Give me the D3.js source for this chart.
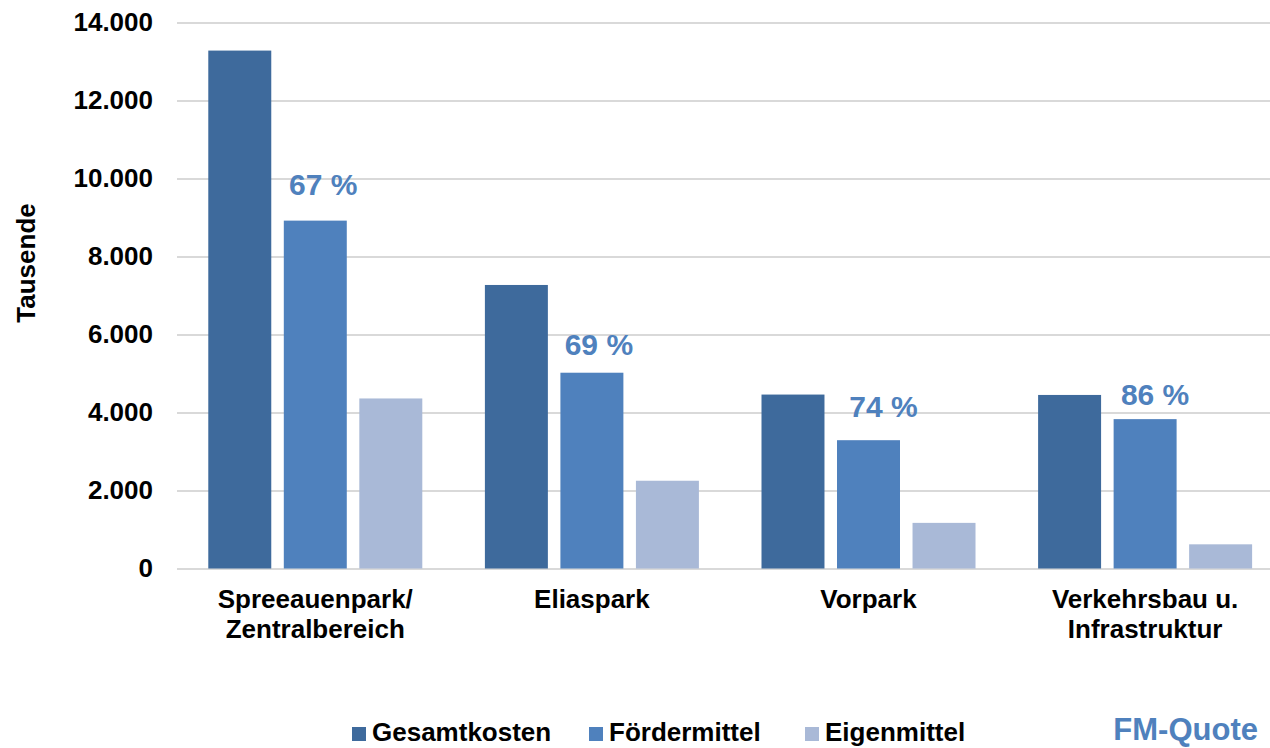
<!DOCTYPE html>
<html>
<head>
<meta charset="utf-8">
<title>Gesamtkosten, Fördermittel und Eigenmittel</title>
<script src="https://cdn.jsdelivr.net/npm/d3@7"></script>
<style>
  body { margin: 0; background: #fff; }
  svg { font-family: "Liberation Sans", Arial, sans-serif; font-weight: bold; }
</style>
</head>
<body>
<div id="chart"></div>
<script>
// data (Tausend Euro)
var categories = [["Spreeauenpark/", "Zentralbereich"], ["Eliaspark"], ["Vorpark"], ["Verkehrsbau u.", "Infrastruktur"]];
var series = ["Gesamtkosten", "Fördermittel", "Eigenmittel"];
var gesamtkosten = [13280, 7270, 4460, 4450];
var foerdermittel = [8920, 5020, 3290, 3830];
var eigenmittel = [4360, 2250, 1170, 620];
var quoteLabels = ["67 %", "69 %", "74 %", "86 %"];
var yTicks = [0, 2000, 4000, 6000, 8000, 10000, 12000, 14000];

var colors = ["#3e6a9c", "#4f81bd", "#a9b9d7"];
var quoteColor = "#4f81bd";
// hand placement of the quote labels (px), like in the original
var quoteNudge = [[8, 26], [7, 18], [15, 23], [10, 14]];

var W = 1270, H = 748;
var svg = d3.select("#chart").append("svg").attr("width", W).attr("height", H);

var catIdx = categories.map(function(d, i) { return i; });
var x0 = d3.scaleBand().domain(catIdx).range([177, 1283.4]).paddingInner(0.2263).paddingOuter(0.1131);
var x1 = d3.scaleBand().domain(d3.range(series.length)).range([0, x0.bandwidth()]).paddingInner(0.166);
var y = d3.scaleLinear().domain([0, 14000]).range([568.5, 22.5]);

var fmt = d3.formatLocale({ decimal: ",", thousands: ".", grouping: [3], currency: ["", "€"] }).format(",");

// gridlines + y labels
var yAxis = d3.axisLeft(y).tickValues(yTicks).tickFormat(fmt).tickSize(-(W - 177)).tickPadding(24);
var gy = svg.append("g").attr("transform", "translate(177,0)").call(yAxis);
gy.select(".domain").remove();
gy.selectAll(".tick line").attr("stroke", "#d9d9d9").attr("stroke-width", 2);
gy.selectAll(".tick text").attr("font-size", 26).attr("font-weight", "bold").attr("fill", "#000")
  .attr("font-family", "Liberation Sans, Arial, sans-serif");

var values = [gesamtkosten, foerdermittel, eigenmittel];

var groups = svg.append("g").selectAll("g").data(catIdx).enter().append("g")
  .attr("transform", function(i) { return "translate(" + x0(i) + ",0)"; });

groups.selectAll("rect").data(function(i) {
    return values.map(function(v, s) { return { s: s, v: v[i] }; });
  }).enter().append("rect")
  .attr("x", function(d) { return x1(d.s); })
  .attr("width", x1.bandwidth())
  .attr("y", function(d) { return y(d.v); })
  .attr("height", function(d) { return y(0) - y(d.v); })
  .attr("fill", function(d) { return colors[d.s]; });

// quote labels above Fördermittel bars
groups.append("text")
  .attr("x", function(i) { return x1(1) + x1.bandwidth() / 2 + quoteNudge[i][0]; })
  .attr("y", function(i) { return y(foerdermittel[i]) - quoteNudge[i][1]; })
  .attr("text-anchor", "middle")
  .attr("font-size", 30)
  .attr("fill", quoteColor)
  .text(function(i) { return quoteLabels[i]; });

// category labels
groups.append("text")
  .attr("text-anchor", "middle")
  .attr("font-size", 26)
  .attr("fill", "#000")
  .selectAll("tspan").data(function(i) { return categories[i]; }).enter().append("tspan")
  .attr("x", x0.bandwidth() / 2)
  .attr("y", function(d, k) { return 608 + k * 30; })
  .text(function(d) { return d; });

// y axis title
svg.append("text")
  .attr("transform", "translate(35,263) rotate(-90)")
  .attr("text-anchor", "middle")
  .attr("font-size", 26)
  .text("Tausende");

// legend
var legX = [352, 589, 805];
var leg = svg.append("g").selectAll("g").data(series).enter().append("g")
  .attr("transform", function(d, i) { return "translate(" + legX[i] + ",727)"; });
leg.append("rect").attr("width", 14).attr("height", 14).attr("fill", function(d, i) { return colors[i]; });
leg.append("text").attr("x", 20).attr("y", 14).attr("font-size", 26).text(function(d) { return d; });

svg.append("text")
  .attr("x", 1258).attr("y", 740)
  .attr("text-anchor", "end")
  .attr("font-size", 31)
  .attr("fill", quoteColor)
  .text("FM-Quote");
</script>
</body>
</html>
